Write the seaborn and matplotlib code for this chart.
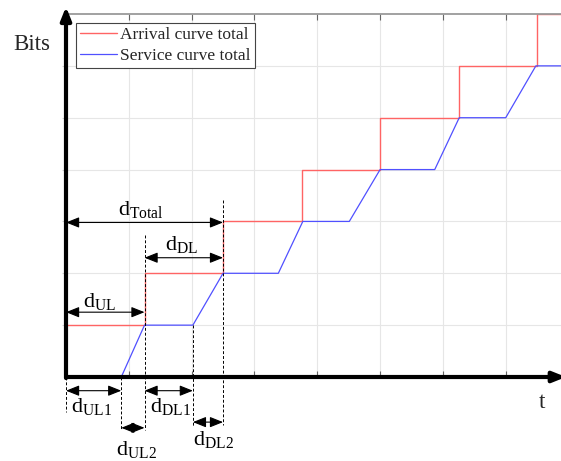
import matplotlib
matplotlib.use("Agg")
import matplotlib.pyplot as plt
import seaborn as sns
import pandas as pd

# ---- data ----
arrival_t = [0, 1.25, 1.25, 2.5, 2.5, 3.75, 3.75, 5.0, 5.0, 6.25, 6.25, 7.5, 7.5, 7.9]
arrival_bits = [1, 1, 2, 2, 3, 3, 4, 4, 5, 5, 6, 6, 7, 7]
service_t = [0.88, 1.25, 2.02, 2.5, 3.38, 3.77, 4.51, 5.0, 5.87, 6.26, 7.0, 7.48, 7.9]
service_bits = [0, 1, 1, 2, 2, 3, 3, 4, 4, 5, 5, 6, 6]
series_names = ["Arrival curve total", "Service curve total"]
series_colors = ["#ff6464", "#5050ff"]
grid_x = [1, 2, 3, 4, 5, 6, 7]
grid_y = [1, 2, 3, 4, 5, 6]

# key instants used in the annotations
t_ul1_end = 0.88    # service starts
t_ul_end = 1.25     # first uplink done
t_dl1_end = 2.02    # downlink starts
t_total = 2.5       # total delay

sns.set_style("white")
plt.rcParams["font.family"] = ["Liberation Serif", "DejaVu Serif"]
plt.rcParams["mathtext.fontset"] = "custom"
plt.rcParams["mathtext.rm"] = "Liberation Serif"
plt.rcParams["mathtext.it"] = "Liberation Serif:italic"

fig = plt.figure(figsize=(5.61, 4.61), dpi=100)
ax = fig.add_axes([66 / 561, 84 / 461, 495 / 561, 363 / 461])

df_a = pd.DataFrame({"t": arrival_t, "bits": arrival_bits})
df_s = pd.DataFrame({"t": service_t, "bits": service_bits})
sns.lineplot(data=df_a, x="t", y="bits", sort=False, estimator=None,
             color=series_colors[0], lw=1.0, ax=ax, label=series_names[0])
sns.lineplot(data=df_s, x="t", y="bits", sort=False, estimator=None,
             color=series_colors[1], lw=0.9, ax=ax, label=series_names[1])

ax.set_xlim(0, 7.88)
ax.set_ylim(0, 7)
ax.set_xticks(grid_x)
ax.set_yticks(grid_y)
ax.set_xlabel("")
ax.set_ylabel("")
ax.grid(True, color="#e6e6e6", lw=0.8)
ax.set_axisbelow(True)
ax.tick_params(axis="x", top=True, bottom=True, direction="in", length=4,
               color="#666666", labelbottom=False, labeltop=False)
ax.tick_params(axis="y", left=True, direction="out", length=3,
               color="#d0d0d0", labelleft=False)
for s in ["left", "bottom", "right"]:
    ax.spines[s].set_visible(False)
ax.spines["top"].set_color("#9a9a9a")
ax.spines["top"].set_linewidth(1.3)

leg = ax.legend(loc="upper left", bbox_to_anchor=(76 / 561, 1 - 23 / 461),
                bbox_transform=fig.transFigure, borderaxespad=0,
                fontsize=12.5, frameon=True, fancybox=False, framealpha=1,
                edgecolor="#444444", handlelength=2.1, handletextpad=0.2,
                borderpad=0.25, labelspacing=0.25)
leg.get_frame().set_linewidth(0.8)

# thick axis arrows
ax.annotate("", xy=(7.96, 0), xytext=(0, 0), annotation_clip=False,
            arrowprops=dict(arrowstyle="-|>,head_length=0.55,head_width=0.22",
                            color="black", lw=3, mutation_scale=14,
                            shrinkA=0, shrinkB=0))
ax.annotate("", xy=(0, 7.14), xytext=(0, -0.02), annotation_clip=False,
            arrowprops=dict(arrowstyle="-|>,head_length=0.55,head_width=0.22",
                            color="black", lw=3, mutation_scale=14,
                            shrinkA=0, shrinkB=0))

# dashed guide lines
dash = dict(color="black", lw=0.7, ls=(0, (3, 2)), clip_on=False)
ax.plot([0, 0], [0, -0.675], **dash)
ax.plot([t_ul1_end, t_ul1_end], [0, -1.02], **dash)
ax.plot([t_ul_end, t_ul_end], [2.74, -1.02], **dash)
ax.plot([t_dl1_end, t_dl1_end], [1, -0.96], **dash)
ax.plot([t_total, t_total], [3.41, -0.93], **dash)


def darrow(x0, x1, y):
    ax.annotate("", xy=(x1, y), xytext=(x0, y), annotation_clip=False,
                arrowprops=dict(arrowstyle="<|-|>,head_length=0.8,head_width=0.32",
                                color="black", lw=0.8, mutation_scale=10,
                                shrinkA=0, shrinkB=0))


darrow(0, t_total, 2.98)
darrow(t_ul_end, t_total, 2.30)
darrow(0, t_ul_end, 1.25)
darrow(0, t_ul1_end, -0.264)
darrow(t_ul_end, t_dl1_end, -0.264)
darrow(t_ul1_end, t_ul_end, -0.98)
darrow(t_dl1_end, t_total, -0.87)

fs = 16
txt = dict(fontsize=fs, ha="center", va="baseline", color="black")
ax.text(1.195, 3.12, r"$\mathrm{d}_{\mathrm{Total}}$", **txt)
ax.text(1.846, 2.45, r"$\mathrm{d}_{\mathrm{DL}}$", **txt)
ax.text(0.541, 1.356, r"$\mathrm{d}_{\mathrm{UL}}$", **txt)
ax.text(0.403, -0.669, r"$\mathrm{d}_{\mathrm{UL1}}$", **txt)
ax.text(1.66, -0.669, r"$\mathrm{d}_{\mathrm{DL1}}$", **txt)
ax.text(1.119, -1.504, r"$\mathrm{d}_{\mathrm{UL2}}$", **txt)
ax.text(2.34, -1.311, r"$\mathrm{d}_{\mathrm{DL2}}$", **txt)

ax.text(7.58, -0.598, "t", fontsize=16.5, ha="center", va="baseline")
ax.text(-0.55, 6.305, "Bits", fontsize=16.5, ha="center", va="baseline")

fig.savefig("out.png", dpi=100)
